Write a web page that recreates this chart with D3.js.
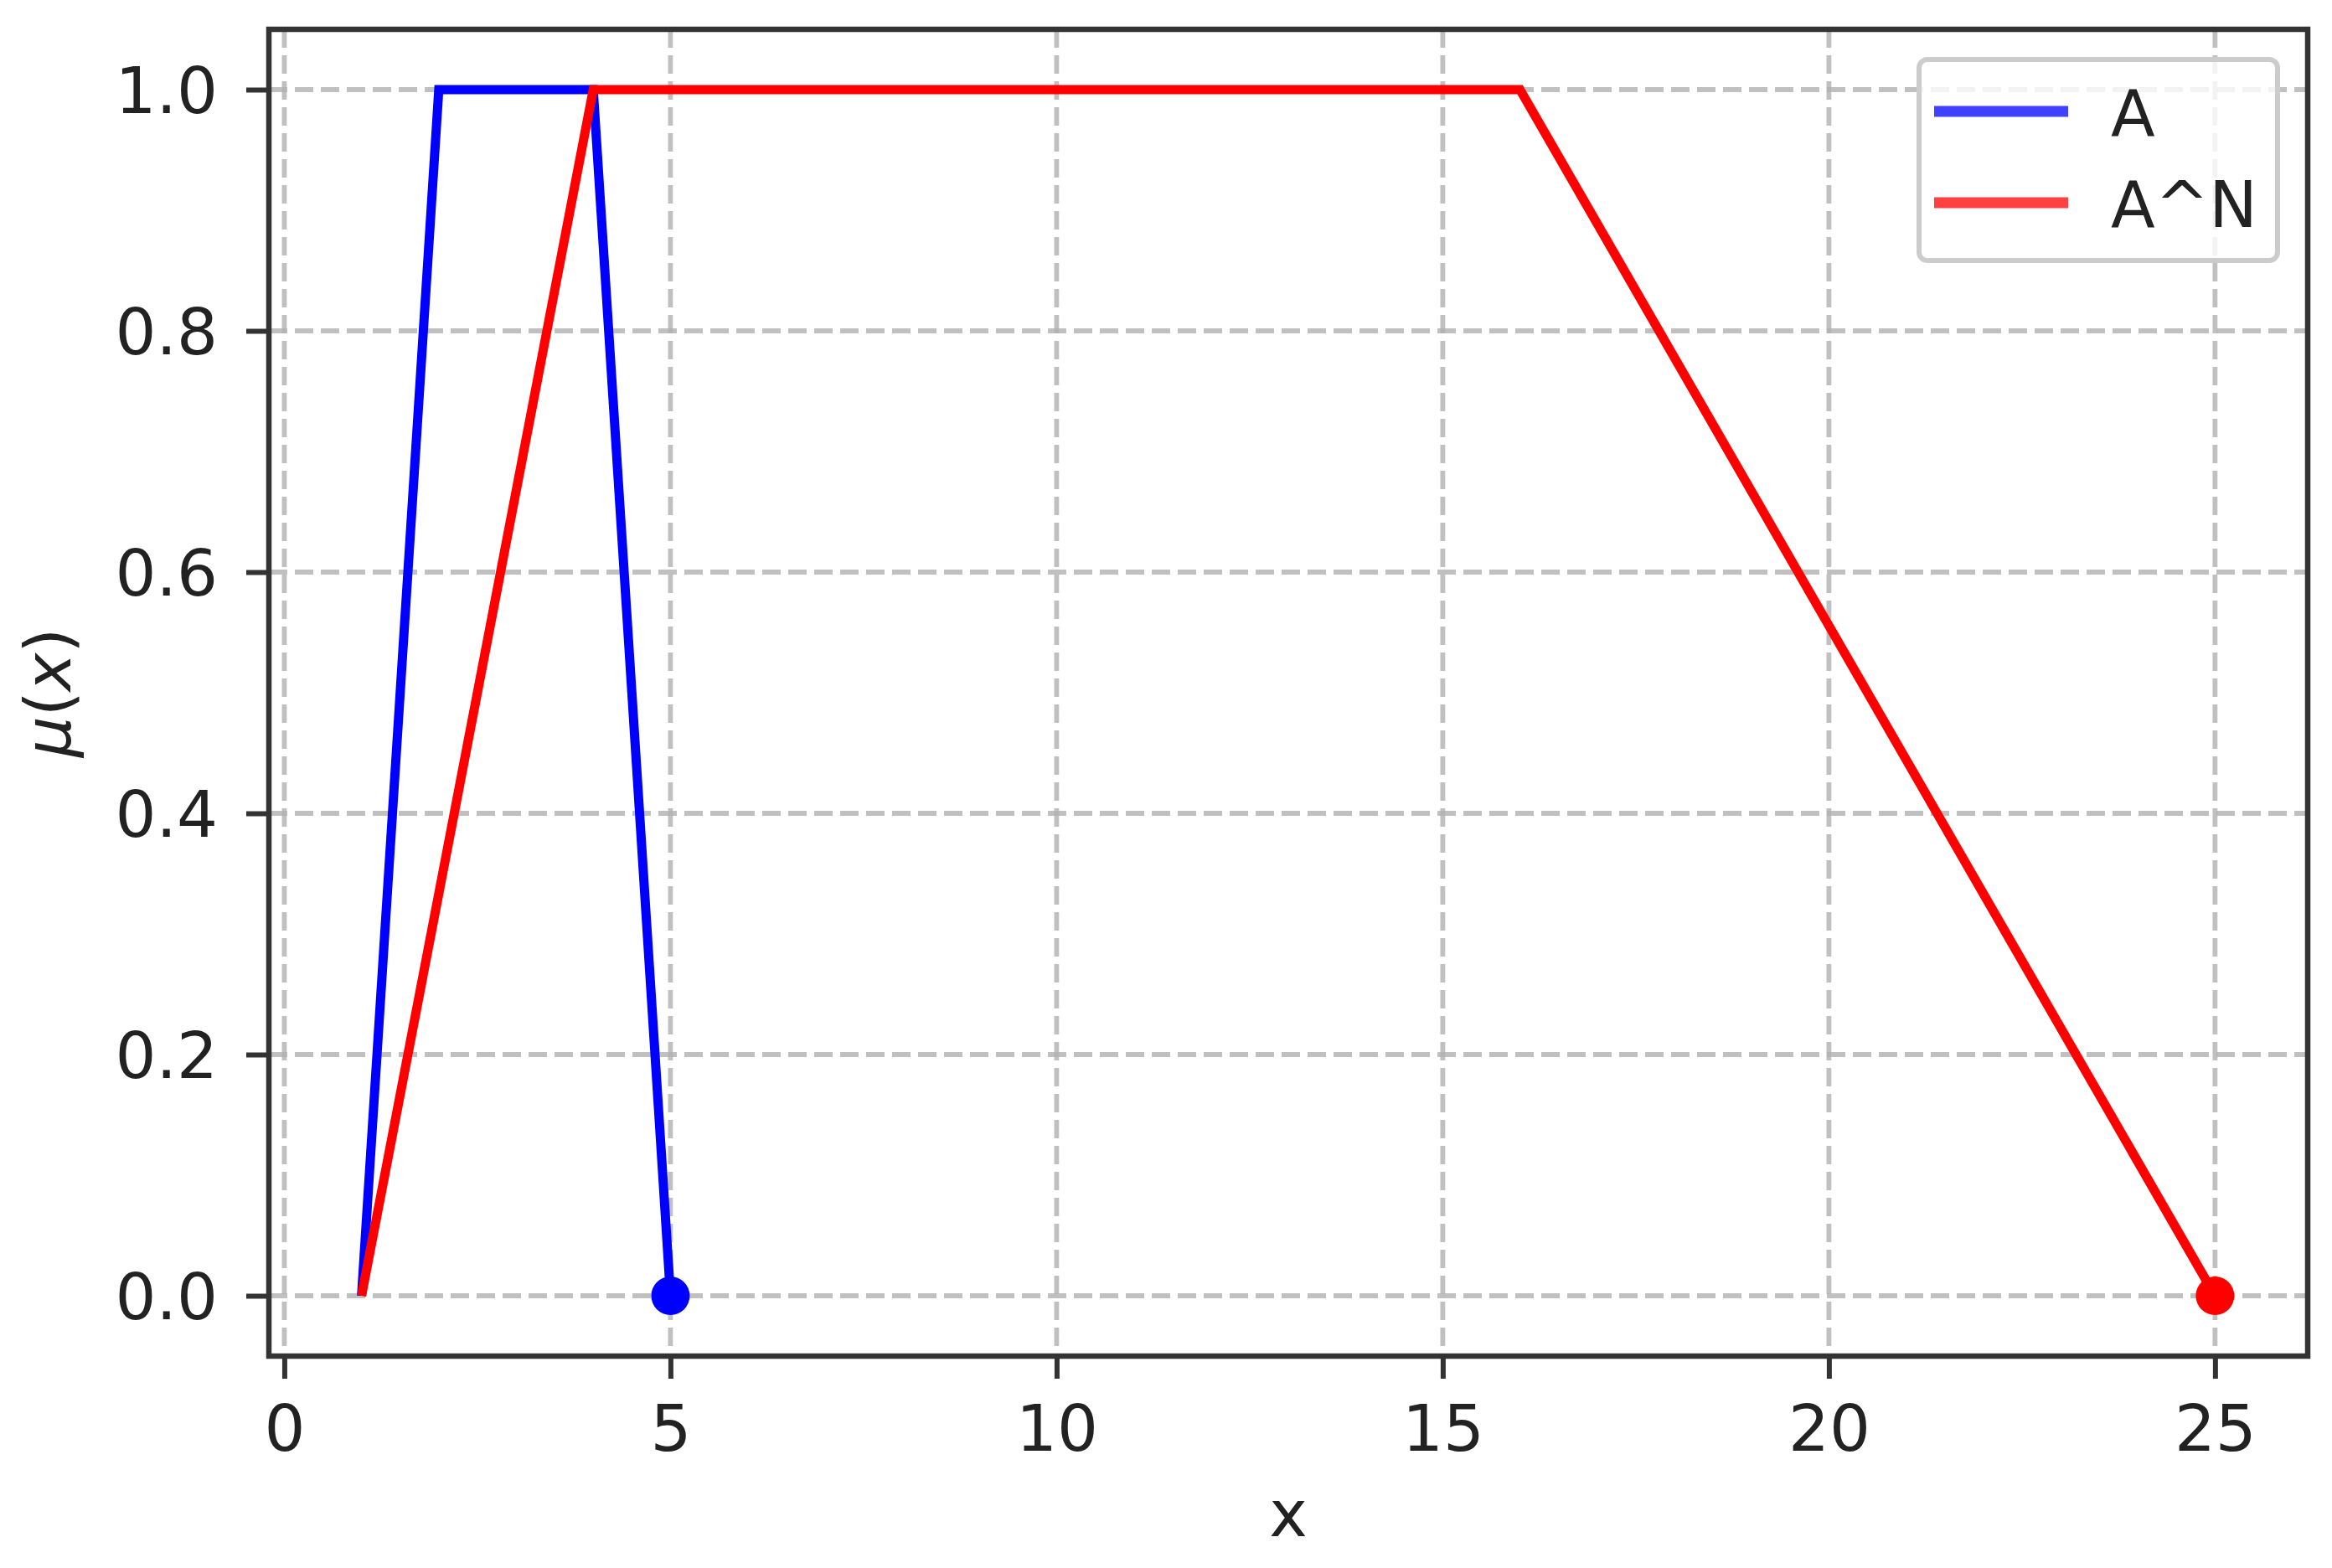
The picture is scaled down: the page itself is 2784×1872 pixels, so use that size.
<!DOCTYPE html>
<html><head><meta charset="utf-8">
<script src="https://cdn.jsdelivr.net/npm/d3@7"></script>
<style>body{margin:0;background:#fff}</style>
</head><body>
<svg id="chart" width="2784" height="1872"></svg>
<script>
// ---- data ----
const xA = [1, 2, 4, 5];
const yA = [0, 1, 1, 0];
const xAN = [1, 4, 16, 25];
const yAN = [0, 1, 1, 0];
const markerX = [5, 25];
const markerY = [0, 0];
const seriesNames = ["A", "A^N"];
const seriesColors = ["#0000ff", "#ff0000"];
const legendColors = ["#4040ff", "#ff4040"];
const xTicks = [0, 5, 10, 15, 20, 25];
const yTicks = [0, 0.2, 0.4, 0.6, 0.8, 1.0];

// ---- layout ----
const W = 2784, H = 1872;
const L = 321, R = 2755, T = 35, B = 1619;
const FONT = "DejaVu Sans, sans-serif";
const FS = 77;

const svg = d3.select("#chart");
svg.append("rect").attr("width", W).attr("height", H).attr("fill", "#fff");

const x = d3.scaleLinear().domain([-0.2, 26.2]).range([L, R]);
const y = d3.scaleLinear().domain([-0.05, 1.05]).range([B, T]);

// grid
const grid = svg.append("g");
grid.selectAll("line.gx").data(xTicks).join("line")
  .attr("x1", d => x(d)).attr("x2", d => x(d)).attr("y1", T).attr("y2", B)
  .attr("stroke", "#b0b0b0").attr("stroke-opacity", 0.8).attr("stroke-width", 5.8)
  .attr("stroke-dasharray", "22,9");
grid.selectAll("line.gy").data(yTicks).join("line")
  .attr("y1", d => y(d)).attr("y2", d => y(d)).attr("x1", L).attr("x2", R)
  .attr("stroke", "#b0b0b0").attr("stroke-opacity", 0.8).attr("stroke-width", 5.8)
  .attr("stroke-dasharray", "22,9");

// lines
const line = d3.line().x(d => x(d[0])).y(d => y(d[1]));
const seriesData = [d3.zip(xA, yA), d3.zip(xAN, yAN)];
const plot = svg.append("g");
seriesData.forEach((s, i) => {
  plot.append("path").attr("d", line(s)).attr("fill", "none")
    .attr("stroke", seriesColors[i]).attr("stroke-width", 11)
    .attr("stroke-linejoin", "miter").attr("stroke-linecap", "butt");
});
plot.selectAll("circle").data(d3.zip(markerX, markerY)).join("circle")
  .attr("cx", d => x(d[0])).attr("cy", d => y(d[1])).attr("r", 23)
  .attr("fill", (d, i) => seriesColors[i]);

// axes
const xAxis = d3.axisBottom(x).tickValues(xTicks).tickFormat(d3.format("d"))
  .tickSize(27).tickSizeOuter(0);
const gx = svg.append("g").attr("transform", `translate(0,${B})`).call(xAxis);
gx.select(".domain").remove();
gx.selectAll(".tick line").attr("stroke", "#333").attr("stroke-width", 6);
gx.selectAll(".tick text").attr("font-family", FONT).attr("font-size", FS)
  .attr("fill", "#222").attr("y", 113).attr("dy", 0);

const yAxis = d3.axisLeft(y).tickValues(yTicks).tickFormat(d3.format(".1f"))
  .tickSize(27).tickSizeOuter(0);
const gy = svg.append("g").attr("transform", `translate(${L},0)`).call(yAxis);
gy.select(".domain").remove();
gy.selectAll(".tick line").attr("stroke", "#333").attr("stroke-width", 6);
gy.selectAll(".tick text").attr("font-family", FONT).attr("font-size", FS)
  .attr("fill", "#222").attr("x", -61).attr("dy", "0.36em");

// spines
svg.append("rect").attr("x", L).attr("y", T).attr("width", R - L).attr("height", B - T)
  .attr("fill", "none").attr("stroke", "#333").attr("stroke-width", 6.5);

// axis labels
svg.append("text").attr("x", (L + R) / 2).attr("y", 1834).attr("text-anchor", "middle")
  .attr("font-family", FONT).attr("font-size", FS).attr("fill", "#222").text("x");
const yl = svg.append("text").attr("transform", `translate(84,${(T + B) / 2}) rotate(-90)`)
  .attr("text-anchor", "middle").attr("font-family", FONT).attr("font-size", FS).attr("fill", "#222");
yl.append("tspan").attr("font-style", "italic").text("μ");
yl.append("tspan").text("(");
yl.append("tspan").attr("font-style", "italic").text("x");
yl.append("tspan").text(")");

// legend
const lg = svg.append("g");
lg.append("rect").attr("x", 2291).attr("y", 71).attr("width", 428).attr("height", 240)
  .attr("rx", 10).attr("fill", "#fff").attr("fill-opacity", 0.8)
  .attr("stroke", "#cccccc").attr("stroke-width", 6);
seriesNames.forEach((n, i) => {
  const cy = 133 + i * 109;
  lg.append("line").attr("x1", 2309).attr("x2", 2469).attr("y1", cy).attr("y2", cy)
    .attr("stroke", legendColors[i]).attr("stroke-width", 13);
  lg.append("text").attr("x", 2520).attr("y", 162 + i * 109)
    .attr("font-family", FONT).attr("font-size", FS).attr("fill", "#222").text(n);
});
</script>
</body></html>
